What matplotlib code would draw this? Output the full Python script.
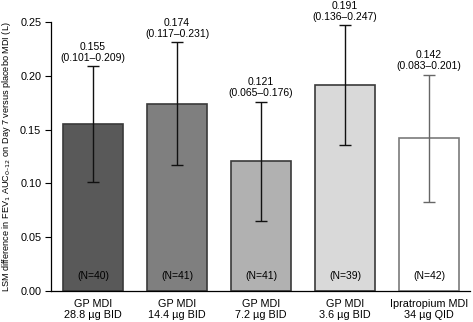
import matplotlib
matplotlib.use("Agg")
import matplotlib.pyplot as plt
import numpy as np

plt.rcParams['font.family'] = ['Liberation Sans', 'DejaVu Sans']

categories = ["GP MDI\n28.8 µg BID", "GP MDI\n14.4 µg BID", "GP MDI\n7.2 µg BID",
              "GP MDI\n3.6 µg BID", "Ipratropium MDI\n34 µg QID"]
values = [0.155, 0.174, 0.121, 0.191, 0.142]
ci_low = [0.101, 0.117, 0.065, 0.136, 0.083]
ci_high = [0.209, 0.231, 0.176, 0.247, 0.201]
n_labels = ["(N=40)", "(N=41)", "(N=41)", "(N=39)", "(N=42)"]
yticks = [0.00, 0.05, 0.10, 0.15, 0.20, 0.25]

colors = ['#595959', '#7f7f7f', '#b1b1b1', '#d9d9d9', '#ffffff']
edges = ['#3a3a3a', '#3a3a3a', '#3a3a3a', '#3a3a3a', '#7a7a7a']
ecolors = ['#111111', '#111111', '#111111', '#111111', '#666666']

fig = plt.figure(figsize=(4.73, 3.22), dpi=100)
ax = fig.add_axes([0.108, 0.0963, 0.886, 0.8354])

x = np.arange(len(categories))
for i in range(len(categories)):
    ax.bar(x[i], values[i], width=0.714, color=colors[i], edgecolor=edges[i],
           linewidth=1.2, zorder=2)
    ax.errorbar(x[i], values[i],
                yerr=[[values[i] - ci_low[i]], [ci_high[i] - values[i]]],
                fmt='none', ecolor=ecolors[i], elinewidth=1.0, capsize=4.5,
                capthick=1.0, zorder=3)
    ax.annotate(f"{values[i]:.3f}\n({ci_low[i]:.3f}–{ci_high[i]:.3f})",
                xy=(x[i], ci_high[i]), xytext=(0, 2.5), textcoords='offset points',
                ha='center', va='bottom', fontsize=7.5, linespacing=1.1,
                annotation_clip=False)
    ax.text(x[i], 0.0135, n_labels[i], ha='center', va='center', fontsize=7.5, zorder=4)

ax.set_xlim(-0.5, 4.49)
ax.set_ylim(0, 0.25)
ax.set_yticks(yticks)
ax.set_yticklabels([f"{t:.2f}" for t in yticks], fontsize=7.8)
ax.set_xticks(x)
ax.set_xticklabels(categories, fontsize=7.8, linespacing=1.05)
ax.tick_params(axis='x', length=0, pad=6)
ax.tick_params(axis='y', length=4, width=0.8, pad=3)
ax.spines['top'].set_visible(False)
ax.spines['right'].set_visible(False)
ax.spines['left'].set_linewidth(0.9)
ax.spines['bottom'].set_linewidth(0.9)

ax.set_ylabel("LSM difference in FEV$_1$ AUC$_{0\u201312}$ on Day 7 versus placebo MDI (L)",
              fontsize=6.6)
ax.yaxis.set_label_coords(-0.092, 0.5)

fig.savefig("out.png", dpi=100)
